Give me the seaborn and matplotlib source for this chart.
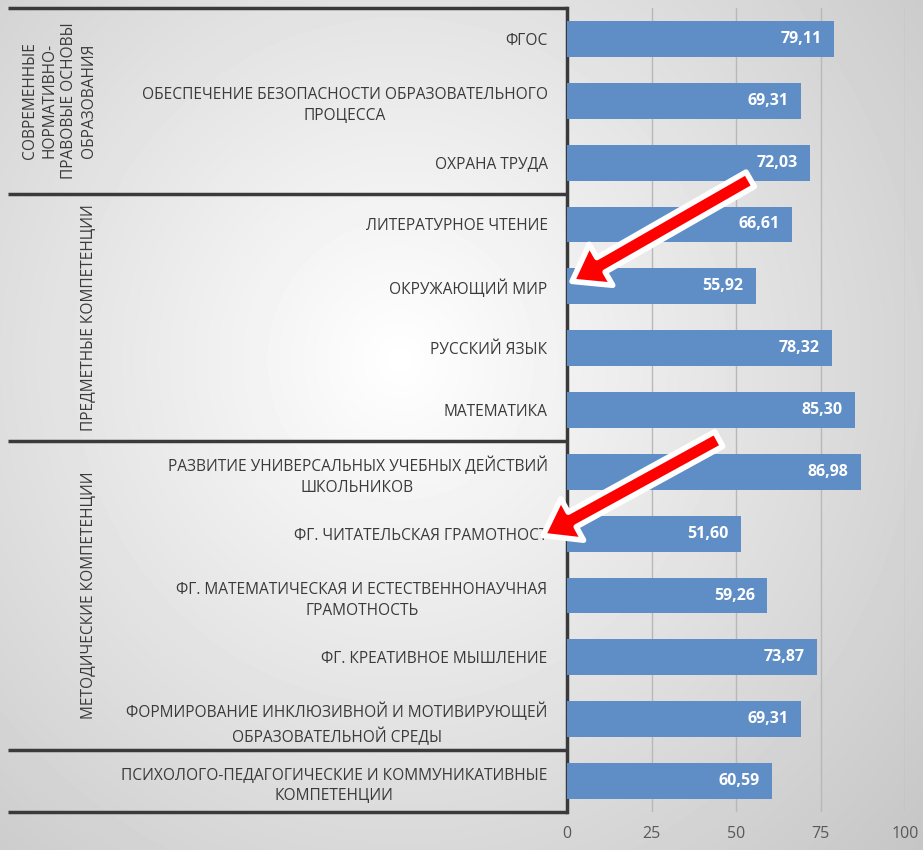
import numpy as np
import pandas as pd
import seaborn as sns
import matplotlib.pyplot as plt
from matplotlib.transforms import blended_transform_factory

# данные
categories = [
    'ФГОС',
    'ОБЕСПЕЧЕНИЕ БЕЗОПАСНОСТИ ОБРАЗОВАТЕЛЬНОГО\nПРОЦЕССА',
    'ОХРАНА ТРУДА',
    'ЛИТЕРАТУРНОЕ ЧТЕНИЕ',
    'ОКРУЖАЮЩИЙ МИР',
    'РУССКИЙ ЯЗЫК',
    'МАТЕМАТИКА',
    'РАЗВИТИЕ УНИВЕРСАЛЬНЫХ УЧЕБНЫХ ДЕЙСТВИЙ\nШКОЛЬНИКОВ',
    'ФГ. ЧИТАТЕЛЬСКАЯ ГРАМОТНОСТ',
    'ФГ. МАТЕМАТИЧЕСКАЯ И ЕСТЕСТВЕННОНАУЧНАЯ\nГРАМОТНОСТЬ',
    'ФГ. КРЕАТИВНОЕ МЫШЛЕНИЕ',
    'ФОРМИРОВАНИЕ ИНКЛЮЗИВНОЙ И МОТИВИРУЮЩЕЙ\nОБРАЗОВАТЕЛЬНОЙ СРЕДЫ',
    'ПСИХОЛОГО-ПЕДАГОГИЧЕСКИЕ И КОММУНИКАТИВНЫЕ\nКОМПЕТЕНЦИИ',
]
values = [79.11, 69.31, 72.03, 66.61, 55.92, 78.32, 85.30,
          86.98, 51.60, 59.26, 73.87, 69.31, 60.59]
group_names = ['СОВРЕМЕННЫЕ\nНОРМАТИВНО-\nПРАВОВЫЕ ОСНОВЫ\nОБРАЗОВАНИЯ',
               'ПРЕДМЕТНЫЕ КОМПЕТЕНЦИИ',
               'МЕТОДИЧЕСКИЕ КОМПЕТЕНЦИИ',
               '']
group_sizes = [3, 4, 5, 1]
x_ticks = [0, 25, 50, 75, 100]

df = pd.DataFrame({'cat': categories, 'val': values})

sns.set_style('white')
plt.rcParams['font.family'] = ['Open Sans', 'DejaVu Sans']
text_col = '#3a3a3a'

fig = plt.figure(figsize=(9.23, 8.5), dpi=100)

# фон с градиентом
bg = fig.add_axes([0, 0, 1, 1], zorder=-10)
yy, xx = np.mgrid[0:850, 0:923]
r = np.sqrt(((xx - 400) / 620.0) ** 2 + ((yy - 360) / 650.0) ** 2)
shade = np.clip(1.0 - 0.2 * r, 0, 1)
bg.imshow(shade, cmap='gray', vmin=0, vmax=1, aspect='auto')
bg.axis('off')

ax = fig.add_axes([567 / 923, 1 - 812 / 850, 338 / 923, 804 / 850])
ax.patch.set_alpha(0)

sns.barplot(data=df, x='val', y='cat', color='#5f8ec7', saturation=1,
            width=0.58, ax=ax, zorder=3, edgecolor='none', linewidth=0)

ax.set_xlim(0, 100)
ax.set_ylim(12.5, -0.5)
ax.set_xlabel('')
ax.set_ylabel('')
ax.set_xticks(x_ticks)
ax.set_xticklabels([str(t) for t in x_ticks], color='#595959', fontsize=11.5)
ax.set_yticks(range(len(categories)))
ax.set_yticklabels(categories, fontsize=11.2, color=text_col,
                   multialignment='center', linespacing=1.45)
ax.tick_params(axis='y', length=0, pad=14)
ax.tick_params(axis='x', length=0, pad=10)
ax.grid(axis='x', color='#b8b8b8', lw=1)
ax.set_axisbelow(True)
for s in ['top', 'right', 'bottom']:
    ax.spines[s].set_visible(False)
ax.spines['left'].set_color(text_col)
ax.spines['left'].set_linewidth(2.5)

# подписи значений
for i, v in enumerate(values):
    ax.annotate(f'{v:.2f}'.replace('.', ','), xy=(v, i), xytext=(-9, 0),
                textcoords='offset points', ha='right', va='center',
                color='white', fontsize=11.5, fontweight='bold', zorder=5)

# разделители групп и подписи групп
tr = blended_transform_factory(fig.transFigure, ax.transData)
bounds = np.concatenate([[0], np.cumsum(group_sizes)]) - 0.5
for b in bounds:
    ax.plot([8 / 923, 567 / 923], [b, b], color=text_col, lw=2.5,
            transform=tr, clip_on=False, solid_capstyle='butt')
for name, lo, hi in zip(group_names, bounds[:-1], bounds[1:]):
    if name:
        ax.text(97 / 923, (lo + hi) / 2, name, rotation=90, transform=tr,
                ha='right', va='center', multialignment='center',
                fontsize=11.2, color=text_col, linespacing=1.3)

# красные стрелки
arrow_style = 'simple,head_length=24,head_width=34,tail_width=12'
for tail, head in [((54.2, 2.27), (1.5, 3.92)), ((44.9, 6.47), (-7.1, 8.03))]:
    ax.annotate('', xy=head, xytext=tail, annotation_clip=False, zorder=10,
                arrowprops=dict(arrowstyle=arrow_style, mutation_scale=1,
                                fc='#ff0000', ec='white', lw=4,
                                shrinkA=0, shrinkB=0))

fig.savefig('out.png', dpi=100)
